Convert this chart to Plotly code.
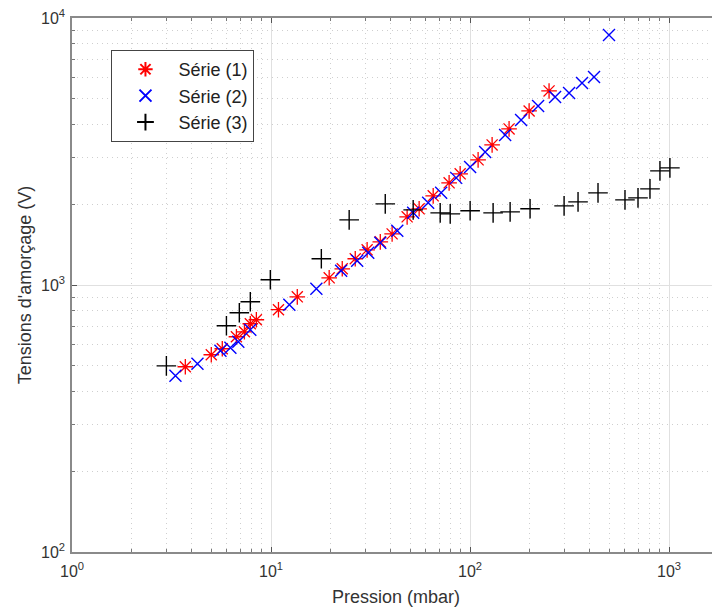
import plotly.graph_objects as go

# Série (1)
s1_x = [3.71, 5.01, 5.69, 6.70, 7.35, 7.87, 8.44, 10.9, 13.55, 19.6, 22.8, 26.5, 30.4, 35.4, 40.6,
        48.3, 55.5, 65.3, 78.5, 89.2, 109.8, 129.1, 157.1, 198.1, 249.5]
s1_y = [494, 548, 577, 640, 668, 716, 741, 808, 903, 1064, 1150, 1254, 1354, 1451, 1554,
        1800, 1929, 2157, 2413, 2608, 2942, 3347, 3842, 4486, 5331]

# Série (2)
s2_x = [3.31, 4.27, 5.57, 6.25, 6.85, 7.87, 12.36, 16.9, 22.5, 27.1, 30.8, 35.4, 43.1, 51.8,
        61.6, 71.6, 85.2, 100.1, 119.1, 150.1, 180.5, 219.8, 267.5, 314.5, 365.3, 419.8, 499.2]
s2_y = [457, 507, 567, 582, 613, 680, 843, 968, 1130, 1232, 1320, 1439, 1595, 1863,
        2031, 2214, 2519, 2769, 3151, 3648, 4152, 4685, 5061, 5239, 5711, 6015, 8636]

# Série (3)
s3_x = [2.98, 5.97, 6.93, 7.87, 9.92, 17.9, 24.7, 37.5, 51.8, 70.8, 79.5, 100.1, 130.6, 159,
        200.3, 296.9, 348.9, 439.6, 600.6, 698.3, 802, 900, 1010]
s3_y = [498, 704, 787, 865, 1046, 1254, 1754, 2013, 1911, 1863, 1847, 1896, 1863, 1879,
        1929, 1979, 2048, 2214, 2084, 2120, 2291, 2676, 2746]

x_tickvals = [1, 10, 100, 1000]
x_ticktext = ["10<sup>0</sup>", "10<sup>1</sup>", "10<sup>2</sup>", "10<sup>3</sup>"]
y_tickvals = [100, 1000, 10000]
y_ticktext = ["10<sup>2</sup>", "10<sup>3</sup>", "10<sup>4</sup>"]

FONT = "Liberation Sans, Arial, sans-serif"
AX = "#8a8a8a"
TXT = "#333333"

fig = go.Figure()
fig.add_trace(go.Scatter(x=s1_x, y=s1_y, mode="markers", name="Série (1)",
                         marker=dict(symbol="asterisk-open", size=13, color="red",
                                     line=dict(color="red", width=1.3))))
fig.add_trace(go.Scatter(x=s2_x, y=s2_y, mode="markers", name="Série (2)",
                         marker=dict(symbol="x-thin-open", size=12, color="blue",
                                     line=dict(color="blue", width=1.4))))
fig.add_trace(go.Scatter(x=s3_x, y=s3_y, mode="markers", name="Série (3)",
                         marker=dict(symbol="cross-thin-open", size=14, color="black",
                                     line=dict(color="black", width=1.4))))

common = dict(
    type="log", showline=True, linecolor=AX, linewidth=1.5,
    ticks="inside", ticklen=5, tickcolor="#555555",
    showgrid=True, gridcolor="#e0e0e0", gridwidth=1, zeroline=False,
    automargin=False, ticklabeloverflow="allow",
    tickfont=dict(family=FONT, size=16, color=TXT),
    minor=dict(ticks="inside", ticklen=3, tickcolor="#777777", showgrid=True,
               gridcolor="#cfcfcf", griddash="1px,4px", gridwidth=1, dtick="D1"),
)

fig.update_xaxes(**common, range=[0, 3.256], mirror="ticks",
                 tickvals=x_tickvals, ticktext=x_ticktext, ticklabelstandoff=4,
                 title=dict(text="Pression (mbar)", font=dict(family=FONT, size=18, color=TXT),
                            standoff=11))
fig.update_yaxes(**common, range=[2, 4], mirror=False,
                 tickvals=y_tickvals, ticktext=y_ticktext, ticklabelstandoff=2,
                 title=dict(text="Tensions d'amorçage (V)", font=dict(family=FONT, size=18, color=TXT),
                            standoff=5))

fig.update_layout(
    width=712, height=600,
    margin=dict(l=63.5, r=0, t=10, b=56),
    paper_bgcolor="white", plot_bgcolor="white",
    font=dict(family=FONT, size=16, color=TXT),
    legend=dict(x=0.0609, y=0.94, xanchor="left", yanchor="top",
                bgcolor="white", bordercolor="#444444", borderwidth=1,
                font=dict(family=FONT, size=18, color="#222222"),
                itemwidth=56, entrywidth=82, tracegroupgap=0, itemsizing="constant"),
    showlegend=True,
)

fig.write_html("out.html")
